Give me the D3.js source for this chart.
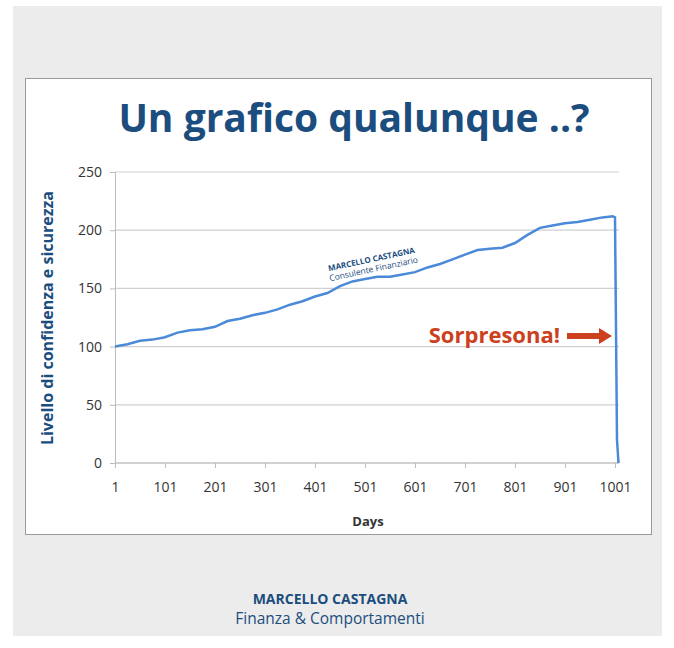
<!DOCTYPE html><html><head><meta charset="utf-8"><script src="https://cdn.jsdelivr.net/npm/d3@7"></script>
<style>body{margin:0;background:#fff}</style></head><body><svg id="c" width="674" height="648"></svg>
<script>
const days=[1,26,51,76,101,126,151,176,201,226,251,276,301,326,351,376,401,426,451,476,501,526,551,576,601,626,651,676,701,726,751,776,801,826,851,876,901,926,951,976,996,1001,1005,1008];
const values=[100,102,105,106,108,112,114,115,117,122,124,127,129,132,136,139,143,146,152,156,158,160,160,162,164,168,171,175,179,183,184,185,189,196,202,204,206,207,209,211,212,211,20,0];
const xTicks=[1,101,201,301,401,501,601,701,801,901,1001];
const yTicks=[0,50,100,150,200,250];
const svg=d3.select("#c");
const F="'Open Sans',sans-serif";
svg.append("rect").attr("x",13).attr("y",6).attr("width",649).attr("height",630).attr("fill","#ececec");
svg.append("rect").attr("x",25.5).attr("y",78.5).attr("width",626).attr("height",456).attr("fill","#fff").attr("stroke","#999");
const x=d3.scaleLinear().domain([1,1001]).range([115,615]);
const y=d3.scaleLinear().domain([0,250]).range([463,172]);
svg.append("g").selectAll("line").data(yTicks).join("line").attr("x1",115).attr("x2",619).attr("y1",d=>y(d)).attr("y2",d=>y(d)).attr("stroke","#d0d0d0").attr("stroke-width",1.2);
const ya=svg.append("g").attr("transform","translate(115,0)").call(d3.axisLeft(y).tickValues(yTicks).tickSize(5).tickPadding(8));
const xa=svg.append("g").attr("transform","translate(0,463)").call(d3.axisBottom(x).tickValues(xTicks).tickSize(5).tickPadding(14).tickFormat(d3.format("d")));
[ya,xa].forEach(a=>{a.select(".domain").attr("stroke","#bbb");a.selectAll(".tick line").attr("stroke","#bbb");a.selectAll("text").attr("font-family",F).attr("font-size",14).attr("fill","#333");});
xa.select(".domain").attr("d","M115,0H619");
svg.append("path").datum(days.map((d,i)=>[d,values[i]])).attr("d",d3.line().x(d=>x(d[0])).y(d=>y(d[1]))).attr("fill","none").attr("stroke","#4a8ad8").attr("stroke-width",2.5);
svg.append("text").attr("x",354).attr("y",132).attr("text-anchor","middle").attr("font-family",F).attr("font-weight",700).attr("font-size",39).attr("fill","#1b4d7e").text("Un grafico qualunque ..?");
svg.append("text").attr("transform","translate(53,318) rotate(-90)").attr("text-anchor","middle").attr("font-family",F).attr("font-weight",700).attr("font-size",16).attr("fill","#1b4d7e").text("Livello di confidenza e sicurezza");
svg.append("text").attr("x",368).attr("y",526).attr("text-anchor","middle").attr("font-family",F).attr("font-weight",700).attr("font-size",13).attr("fill","#333").text("Days");
svg.append("text").attr("x",560).attr("y",343).attr("text-anchor","end").attr("font-family",F).attr("font-weight",700).attr("font-size",22).attr("fill","#cc4020").text("Sorpresona!");
svg.append("rect").attr("x",567).attr("y",333).attr("width",34).attr("height",6).attr("fill","#cc4020");
svg.append("path").attr("d","M599,328L612,336L599,344Z").attr("fill","#cc4020");
const w=svg.append("g").attr("transform","translate(372,262) rotate(-12)");
w.append("text").attr("text-anchor","middle").attr("font-family",F).attr("font-weight",700).attr("font-size",8).attr("fill","#1b4d7e").text("MARCELLO CASTAGNA");
w.append("text").attr("y",10).attr("text-anchor","middle").attr("font-family",F).attr("font-size",8.5).attr("fill","#1b4d7e").text("Consulente Finanziario");
svg.append("text").attr("x",330).attr("y",604).attr("text-anchor","middle").attr("font-family",F).attr("font-weight",700).attr("font-size",14).attr("fill","#1b4d7e").text("MARCELLO CASTAGNA");
svg.append("text").attr("x",330).attr("y",624).attr("text-anchor","middle").attr("font-family",F).attr("font-size",15.5).attr("fill","#1b4d7e").text("Finanza & Comportamenti");
</script></body></html>
